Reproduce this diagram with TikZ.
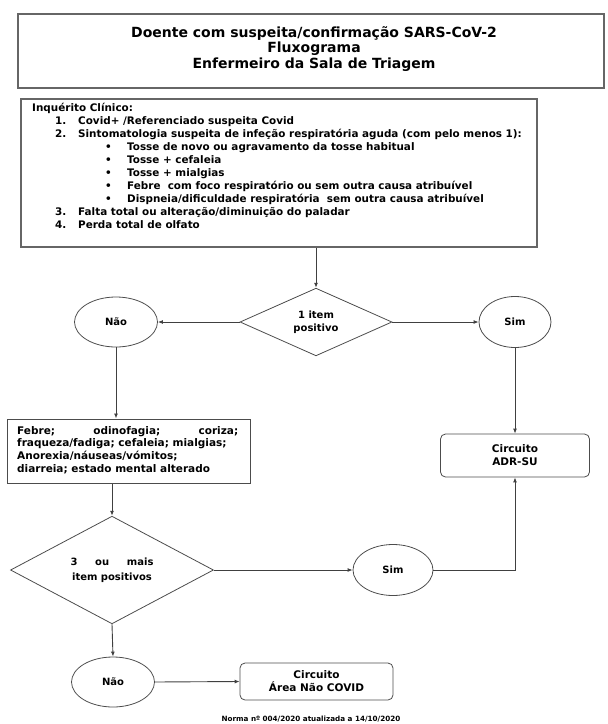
\documentclass[tikz,border=0pt]{standalone}
\usepackage{fontspec}
\setmainfont{DejaVu Sans}
\usetikzlibrary{shapes.geometric,arrows.meta}
\begin{document}
\begin{tikzpicture}[x=1pt,y=-1pt,
  every node/.style={font=\bfseries\fontsize{10}{13}\selectfont, inner sep=0pt, text=black},
  ln/.style={draw=black!75, line width=0.9pt},
  arr/.style={ln, -{Latex[length=5pt,width=4pt]}},
  frame/.style={rectangle, draw=black!60, line width=1.5pt},
  ell/.style={ellipse, draw=black!70, line width=0.8pt},
  dia/.style={diamond, draw=black!70, line width=0.8pt},
  rbox/.style={rectangle, rounded corners=5pt, draw=black!70, line width=0.8pt, font=\bfseries\fontsize{10.5}{13}\selectfont},
  sbox/.style={rectangle, draw=black!70, line width=1pt}
]
\useasboundingbox (0,0) rectangle (608,724);

% title
\node[frame, minimum width=586pt, minimum height=74pt] (title) at (311,51) {};
\node[align=center, font=\bfseries\fontsize{14}{15.5}\selectfont] (titletxt) at (314,49)
  {Doente com suspeita/confirmação SARS-CoV-2\\Fluxograma\\Enfermeiro da Sala de Triagem};

% inquerito
\node[frame, minimum width=516pt, minimum height=148pt] (inq) at (279,173) {};
\node[anchor=north west, align=left, font=\bfseries\fontsize{10.4}{13}\selectfont] (inqtxt) at (32,103)
  {Inquérito Clínico:\\
   \hspace*{23pt}\makebox[23pt][l]{1.}Covid+ /Referenciado suspeita Covid\\
   \hspace*{23pt}\makebox[23pt][l]{2.}Sintomatologia suspeita de infeção respiratória aguda (com pelo menos 1):\\
   \hspace*{73pt}\makebox[22pt][l]{•}Tosse de novo ou agravamento da tosse habitual\\
   \hspace*{73pt}\makebox[22pt][l]{•}Tosse + cefaleia\\
   \hspace*{73pt}\makebox[22pt][l]{•}Tosse + mialgias\\
   \hspace*{73pt}\makebox[22pt][l]{•}Febre\ \ com foco respiratório ou sem outra causa atribuível\\
   \hspace*{73pt}\makebox[22pt][l]{•}Dispneia/dificuldade respiratória\ \ sem outra causa atribuível\\
   \hspace*{23pt}\makebox[23pt][l]{3.}Falta total ou alteração/diminuição do paladar\\
   \hspace*{23pt}\makebox[23pt][l]{4.}Perda total de olfato};

% first decision
\node[dia, minimum width=152pt, minimum height=63pt, align=center] (d1) at (316,322) {1 item\\positivo};
\node[ell, minimum width=83pt, minimum height=50pt] (n1) at (116,322) {Não};
\node[ell, minimum width=72pt, minimum height=51pt] (s1) at (515,322) {Sim};

% febre box
\node[sbox, minimum width=243pt, minimum height=64pt] (febre) at (128.5,451) {};
\node[anchor=north west, align=left, font=\bfseries\fontsize{10.5}{12.7}\selectfont] (febretxt) at (17,426)
  {\makebox[221pt][s]{Febre;\hfill odinofagia;\hfill coriza;}\\
   fraqueza/fadiga; cefaleia; mialgias;\\
   Anorexia/náuseas/vómitos;\\
   diarreia; estado mental alterado};

% ADR box
\node[rbox, minimum width=149pt, minimum height=43pt, align=center] (adr) at (515,455.5) {Circuito\\ADR-SU};

% second decision
\node[dia, minimum width=203pt, minimum height=87pt, align=center, font=\bfseries\fontsize{10}{15}\selectfont] (d2) at (112,570)
  {\makebox[83pt][s]{3\hfill ou\hfill mais}\\item positivos};
\node[ell, minimum width=80pt, minimum height=51pt] (s2) at (393,570) {Sim};
\node[ell, minimum width=83pt, minimum height=50pt] (n2) at (113,682) {Não};
\node[rbox, minimum width=153pt, minimum height=37pt, align=center] (nc) at (316.5,681.5) {Circuito\\Área Não COVID};

\node[font=\bfseries\fontsize{7.2}{8}\selectfont] (norma) at (311,719) {Norma nº 004/2020 atualizada a 14/10/2020};

% connectors
\draw[arr] (d1.north |- inq.south) -- (d1.north);
\draw[arr] (d1.west) -- (n1.east);
\draw[arr] (d1.east) -- (s1.west);
\draw[arr] (n1.south) -- (n1.south |- febre.north);
\draw[arr] (s1.south) -- (adr.north);
\draw[arr] (d2.north |- febre.south) -- (d2.north);
\draw[arr] (d2.east) -- (s2.west);
\draw[arr] (s2.east) -| (adr.south);
\draw[arr] (d2.south) -- (n2.north);
\draw[arr] (n2.east) -- (nc.west);
\end{tikzpicture}
\end{document}
